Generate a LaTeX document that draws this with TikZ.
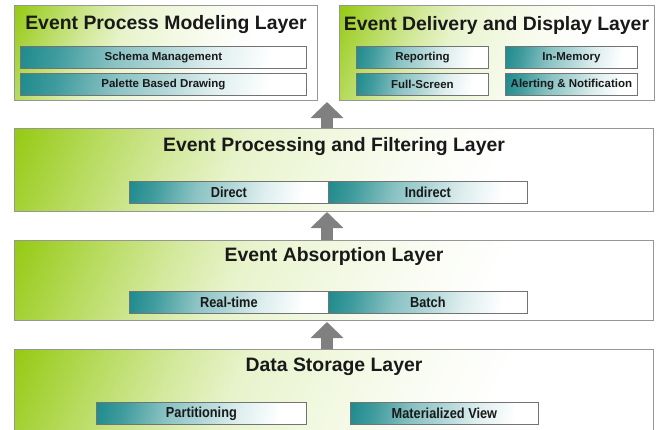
\documentclass[tikz,border=0pt]{standalone}
\usepackage{fontspec}
\setmainfont{Liberation Sans}
\newfontfamily\narrowfont[FakeStretch=0.88]{Liberation Sans}
\usetikzlibrary{arrows.meta}
\definecolor{greenc}{RGB}{150,202,20}
\definecolor{tealc}{RGB}{30,138,140}
\definecolor{framec}{RGB}{150,150,150}
\definecolor{arrowc}{RGB}{128,128,128}
\definecolor{textc}{RGB}{25,25,25}
\pgfdeclareverticalshading{layershade}{100bp}{color(0bp)=(white); color(34bp)=(white); color(42bp)=(greenc!5!white); color(50bp)=(greenc!12!white); color(60bp)=(greenc!22!white); color(67bp)=(greenc!42!white); color(75bp)=(greenc!70!white); color(83bp)=(greenc); color(100bp)=(greenc)}
\pgfdeclareverticalshading{tealshade}{100bp}{color(0bp)=(white); color(28bp)=(white); color(40bp)=(tealc!15!white); color(50bp)=(tealc!35!white); color(60bp)=(tealc!52!white); color(72bp)=(tealc!85!white); color(80bp)=(tealc); color(100bp)=(tealc)}
\begin{document}
\begin{tikzpicture}[x=1pt,y=-1pt,
  layer/.style={draw=framec, line width=1pt, shading=layershade, shading angle=65, inner sep=0pt, anchor=north west},
  title/.style={text=textc, font=\bfseries\fontsize{19.4}{20}\selectfont, inner sep=0pt},
  item/.style={draw=black!55, line width=0.8pt, shading=tealshade, shading angle=78, inner sep=0pt, anchor=north west, minimum height=22pt, text=textc},
  small/.style={item, font=\bfseries\fontsize{11.5}{12}\selectfont},
  big/.style={item, font=\narrowfont\bfseries\fontsize{14.5}{15}\selectfont},
  bigarrow/.style={draw=arrowc, line width=12pt, -{Triangle[width=32pt,length=16pt]}}
]
\useasboundingbox (0,0) rectangle (662,429);
\begin{scope}
\clip (0,0) rectangle (662,429);
% layers
\node[layer, minimum width=303pt, minimum height=95pt] (tl) at (14,5) {};
\node[layer, minimum width=315pt, minimum height=95pt] (tr) at (339,5) {};
\node[layer, minimum width=639pt, minimum height=83pt] (m1) at (14,128) {};
\node[layer, minimum width=639pt, minimum height=80pt] (m2) at (14,240) {};
\node[layer, minimum width=639pt, minimum height=95pt] (bt) at (14,349) {};
\end{scope}
% titles
\node[title] (tlt) at (166,25) {Event Process Modeling Layer};
\node[title] (trt) at (496.5,25) {Event Delivery and Display Layer};
\node[title] (m1t) at (334,147) {Event Processing and Filtering Layer};
\node[title] (m2t) at (334,256) {Event Absorption Layer};
\node[title] (btt) at (334,367) {Data Storage Layer};
% items
\node[small, minimum width=286pt] (schema) at (20,46) {Schema Management};
\node[small, minimum width=286pt] (palette) at (20,73) {Palette Based Drawing};
\node[small, minimum width=132pt] (report) at (356,46) {Reporting};
\node[small, minimum width=132pt] (inmem) at (505,46) {In-Memory};
\node[small, minimum width=132pt] (full) at (356,73) {Full-Screen};
\node[small, minimum width=132pt] (alert) at (505,73) {Alerting \& Notification};
\node[big, minimum width=199pt] (direct) at (129,181) {Direct};
\node[big, minimum width=199pt] (indirect) at (328,181) {Indirect};
\node[big, minimum width=199pt] (realtime) at (129,291) {Real-time};
\node[big, minimum width=199pt] (batch) at (328,291) {Batch};
\node[big, minimum width=210pt] (part) at (96,402) {Partitioning};
\node[big, minimum width=188pt] (mview) at (350,402) {Materialized View};
% arrows
\coordinate (g1) at (327,102);
\coordinate (g2) at (327,212);
\coordinate (g3) at (327,322);
\draw[bigarrow] (m1.north -| g1) -- (g1);
\draw[bigarrow] (m2.north -| g2) -- (g2);
\draw[bigarrow] (bt.north -| g3) -- (g3);
\end{tikzpicture}
\end{document}
